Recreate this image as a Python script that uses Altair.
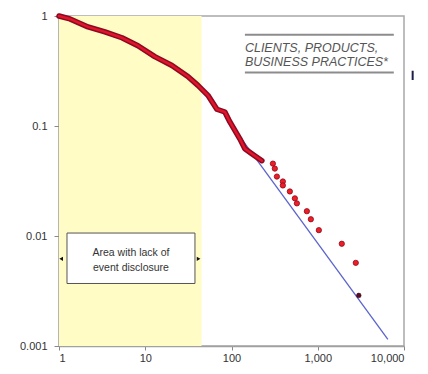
import altair as alt
import pandas as pd

curve_x = [1, 1.34, 2.17, 3.41, 5.37, 8.23, 12.9, 20.4, 31.2, 40.8, 53.3, 67.7, 83.8, 95.8, 125, 143, 172, 225]
curve_y = [1.0, 0.94, 0.796, 0.718, 0.634, 0.537, 0.427, 0.355, 0.282, 0.234, 0.19, 0.142, 0.134, 0.109, 0.0764, 0.0621, 0.056, 0.0484]

# Scattered tail points
tail_x = [302, 318, 336, 394, 394, 475, 543, 573, 748, 832, 1030, 1900, 2760]
tail_y = [0.0455, 0.041, 0.0347, 0.0313, 0.0288, 0.0254, 0.022, 0.0198, 0.0168, 0.0142, 0.0113, 0.0085, 0.0057]

# Dark point sitting on the fitted line
dark_x = [2990]
dark_y = [0.00288]

# Fitted power-law line end points
fit_x = [83.8, 6500]
fit_y = [0.123, 0.00115]

# Shaded region (lack of event disclosure)
shade_x = [1, 45]

x_ticks = [1, 10, 100, 1000, 10000]
y_ticks = [0.001, 0.01, 0.1, 1]

xs = alt.Scale(type="log", domain=[1, 10000])
ys = alt.Scale(type="log", domain=[0.001, 1])
xa = alt.Axis(
    values=x_ticks, title=None, labelPadding=2, tickSize=4,
    labelExpr="datum.value >= 1000 ? format(datum.value / 1000, 'd') + ',000' : format(datum.value, 'd')",
)
ya = alt.Axis(values=y_ticks, format="~g", title=None, labelPadding=7, tickSize=5)

FONT = "Liberation Sans"


def X():
    return alt.X("x:Q", scale=xs, axis=xa)


def Y():
    return alt.Y("y:Q", scale=ys, axis=ya)


shade = alt.Chart(pd.DataFrame({"x": [shade_x[0]], "x2": [shade_x[1]], "y": [0.001], "y2": [1]})).mark_rect(
    color="#FFFCC6"
).encode(x=X(), x2="x2", y=Y(), y2="y2")

fit = alt.Chart(pd.DataFrame({"x": fit_x, "y": fit_y})).mark_line(color="#5a64cc", strokeWidth=1.3).encode(
    x=X(), y=Y()
)

cdf = pd.DataFrame({"x": curve_x, "y": curve_y})
curve_dark = alt.Chart(cdf).mark_line(color="#8a0a22", strokeWidth=5.5, strokeJoin="round", strokeCap="round").encode(
    x=X(), y=Y()
)
curve_red = alt.Chart(cdf).mark_line(color="#e0142a", strokeWidth=2.5, strokeJoin="round", strokeCap="round").encode(
    x=X(), y=Y()
)

tail = alt.Chart(pd.DataFrame({"x": tail_x, "y": tail_y})).mark_point(
    filled=True, fill="#f01c28", stroke="#8a0a1a", strokeWidth=0.8, size=28, opacity=1
).encode(x=X(), y=Y())

dark = alt.Chart(pd.DataFrame({"x": dark_x, "y": dark_y})).mark_point(
    filled=True, fill="#5a0a2a", stroke="#300", strokeWidth=0.5, size=22, opacity=1
).encode(x=X(), y=Y())

# Annotation box
box = alt.Chart(pd.DataFrame({"x": [1.238], "x2": [37.7], "y": [0.0037], "y2": [0.01064]})).mark_rect(
    fill="white", stroke="#555555", strokeWidth=1
).encode(x=X(), x2="x2", y=Y(), y2="y2")

box_lines = ["Area with lack of", "event disclosure"]
box_text = alt.Chart(pd.DataFrame({"x": [6.83, 6.83], "y": [0.00703, 0.00515], "t": box_lines})).mark_text(
    font=FONT, fontSize=10.5, color="#333333", baseline="middle", align="center"
).encode(x=X(), y=Y(), text="t:N")

arrows = alt.Chart(pd.DataFrame({"x": [1.06, 41.5], "y": [0.0062, 0.0062], "s": ["triangle-left", "triangle-right"]})).mark_point(
    filled=True, color="#111111", size=18, opacity=1
).encode(
    x=X(), y=Y(),
    shape=alt.Shape("s:N", scale=alt.Scale(domain=["triangle-left", "triangle-right"], range=["triangle-left", "triangle-right"]), legend=None),
)

# Title-like label with rules
label_rules = alt.Chart(pd.DataFrame({"x": [143, 143], "x2": [7620, 7620], "y": [0.674, 0.3066]})).mark_rule(
    color="#8c8c8c", strokeWidth=2
).encode(x=X(), x2="x2", y=Y())

label_lines = ["CLIENTS, PRODUCTS,", "BUSINESS PRACTICES*"]
label_text = alt.Chart(pd.DataFrame({"x": [143, 143], "y": [0.515, 0.385], "t": label_lines})).mark_text(
    font=FONT, fontSize=12.5, fontStyle="italic", color="#555555", baseline="middle", align="left"
).encode(x=X(), y=Y(), text="t:N")

# Small stray dark stroke to the right of the frame
stray = alt.Chart(pd.DataFrame({"x": [12600], "y": [0.318], "y2": [0.262]})).mark_rule(
    color="#1a1f4a", strokeWidth=2, clip=False
).encode(x=X(), y=Y(), y2="y2")

chart = alt.layer(
    shade, fit, curve_dark, curve_red, tail, dark, box, box_text, arrows, label_rules, label_text, stray
).properties(
    width=345, height=330,
    autosize=alt.AutoSizeParams(type="none"),
    padding={"left": 51, "top": 8, "right": 16, "bottom": 20},
).configure_view(
    stroke="#a8a8a8", strokeWidth=1.5
).configure_axis(
    grid=False, domainColor="#a0a0a0", domainWidth=1.5, tickColor="#888888",
    labelFont=FONT, labelFontSize=11, labelColor="#333333",
)

chart.save("out.html", embed_options={"renderer": "svg", "actions": False})
